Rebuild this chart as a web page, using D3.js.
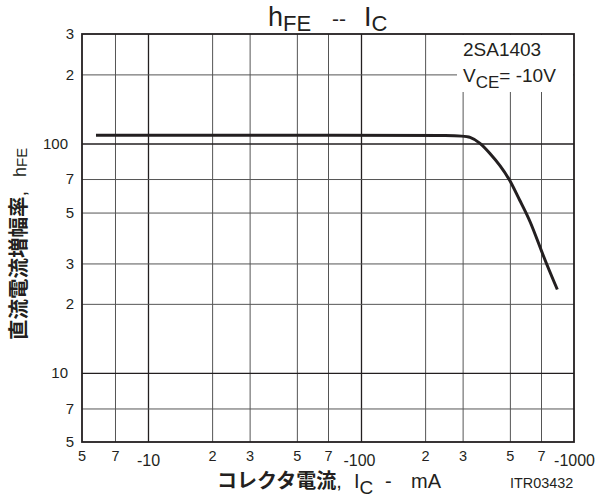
<!DOCTYPE html>
<html>
<head>
<meta charset="utf-8">
<script src="https://cdn.jsdelivr.net/npm/d3@7"></script>
<style>
body { margin: 0; background: #fff; }
text { font-family: "Liberation Sans", Arial, sans-serif; fill: #231f20; }
.jp { font-family: "Noto Sans CJK JP", sans-serif; font-weight: bold; }
</style>
</head>
<body>
<script>
//chart data
var xTicks = [5, 7, 10, 20, 30, 50, 70, 100, 200, 300, 500, 700, 1000];
var xTickLabels = ["5", "7", "-10", "2", "3", "5", "7", "-100", "2", "3", "5", "7", "-1000"];
var yTicks = [5, 7, 10, 20, 30, 50, 70, 100, 200, 300];
var yTickLabels = ["5", "7", "10", "2", "3", "5", "7", "100", "2", "3"];
var icValues = [5.7, 100, 292, 325, 362, 403, 449, 501, 554, 622, 718, 835];     //-mA
var hfeValues = [108.5, 108.5, 108.5, 107, 101, 90.6, 80.6, 69.3, 56.7, 46.4, 32.1, 23.1];

(function () {

var width = 599, height = 499;
var plotLeft = 82, plotRight = 574, plotTop = 34, plotBottom = 442;

var svg = d3.select("body").append("svg")
    .attr("width", width)
    .attr("height", height);

//log scales for both axes
var x = d3.scaleLog().domain([4.9, 1000]).range([plotLeft, plotRight]);
var y = d3.scaleLog().domain([5, 300]).range([plotBottom, plotTop]);

function isDecade(v) { return v === 10 || v === 100 || v === 1000; }

//vertical grid lines
svg.append("g")
    .attr("transform", "translate(0," + plotBottom + ")")
    .call(d3.axisBottom(x).tickValues(xTicks.slice(1, -1)).tickSize(-(plotBottom - plotTop)).tickFormat(""))
    .call(function(g) {
        g.select(".domain").remove();
        g.selectAll(".tick line")
            .attr("stroke", function(d) { return isDecade(d) ? "#231f20" : "#555"; })
            .attr("stroke-width", function(d) { return isDecade(d) ? 1.3 : 1; });
    });

//horizontal grid lines
svg.append("g")
    .attr("transform", "translate(" + plotLeft + ",0)")
    .call(d3.axisLeft(y).tickValues(yTicks.slice(1, -1)).tickSize(-(plotRight - plotLeft)).tickFormat(""))
    .call(function(g) {
        g.select(".domain").remove();
        g.selectAll(".tick line")
            .attr("stroke", function(d) { return isDecade(d) ? "#231f20" : "#555"; })
            .attr("stroke-width", function(d) { return isDecade(d) ? 1.3 : 1; });
    });

//white box behind the type/condition note
svg.append("rect")
    .attr("x", 457).attr("y", plotTop + 1)
    .attr("width", plotRight - 457 - 1).attr("height", 57)
    .attr("fill", "#fff");

//frame
svg.append("rect")
    .attr("x", plotLeft).attr("y", plotTop)
    .attr("width", plotRight - plotLeft).attr("height", plotBottom - plotTop)
    .attr("fill", "none")
    .attr("stroke", "#231f20")
    .attr("stroke-width", 1.8);

//x tick labels
svg.append("g")
    .attr("transform", "translate(0," + plotBottom + ")")
    .call(d3.axisBottom(x).tickValues(xTicks).tickSize(0)
        .tickFormat(function(d, i) { return xTickLabels[i]; }))
    .call(function(g) {
        g.select(".domain").remove();
        g.selectAll(".tick text")
            .attr("font-family", "Liberation Sans, Arial, sans-serif")
            .attr("fill", "#231f20")
            .attr("font-size", function(d) { return isDecade(d) ? 16 : 14.5; })
            .attr("y", function(d) { return isDecade(d) ? 13 : 9; })
            .attr("dx", function(d) { return d === 100 ? -2 : 0; });
        g.selectAll(".tick").filter(function(d) { return d === 5; })
            .attr("transform", "translate(" + plotLeft + ",0)");
    });

//y tick labels
svg.append("g")
    .attr("transform", "translate(" + plotLeft + ",0)")
    .call(d3.axisLeft(y).tickValues(yTicks).tickSize(0)
        .tickFormat(function(d, i) { return yTickLabels[i]; }))
    .call(function(g) {
        g.select(".domain").remove();
        g.selectAll(".tick text")
            .attr("font-size", 15)
            .attr("font-family", "Liberation Sans, Arial, sans-serif")
            .attr("fill", "#231f20")
            .attr("x", function(d) { return isDecade(d) ? -14 : -8; });
    });

//hFE curve
var line = d3.line()
    .x(function(d) { return x(d[0]); })
    .y(function(d) { return y(d[1]); })
    .curve(d3.curveBasis);

svg.append("path")
    .datum(d3.zip(icValues, hfeValues))
    .attr("d", line)
    .attr("fill", "none")
    .attr("stroke", "#231f20")
    .attr("stroke-width", 3);

//title
var title = svg.append("text")
    .attr("y", 26)
    .attr("font-size", 27);
title.append("tspan").attr("x", 268).text("h");
title.append("tspan").attr("font-size", 22).attr("dy", 5).text("FE");
title.append("tspan").attr("x", 332).attr("font-size", 21).attr("dy", -5).text("--");
title.append("tspan").attr("x", 364).text("I");
title.append("tspan").attr("font-size", 22).attr("dy", 5).text("C");

//device note
svg.append("text")
    .attr("x", 463).attr("y", 56)
    .attr("font-size", 19)
    .text("2SA1403");
var vce = svg.append("text")
    .attr("x", 463).attr("y", 82)
    .attr("font-size", 19);
vce.append("tspan").text("V");
vce.append("tspan").attr("dy", 6).attr("font-size", 17).text("CE");
vce.append("tspan").attr("dy", -6).text("= -10V");

//x axis title
var xt = svg.append("text")
    .attr("y", 488)
    .attr("font-size", 20);
xt.append("tspan").attr("x", 217).attr("class", "jp").text("コレクタ電流");
xt.append("tspan").text(",");
xt.append("tspan").attr("x", 354).text("I");
xt.append("tspan").attr("dy", 6).attr("font-size", 19).text("C");
xt.append("tspan").attr("x", 385).attr("dy", -6).text("-");
xt.append("tspan").attr("x", 411).text("mA");

svg.append("text")
    .attr("x", 510).attr("y", 488)
    .attr("font-size", 14.4)
    .text("ITR03432");

//y axis title
var yt = svg.append("text")
    .attr("transform", "translate(26,340) rotate(-90)")
    .attr("font-size", 20.5);
yt.append("tspan").attr("x", 0).attr("class", "jp").text("直流電流増幅率");
yt.append("tspan").text(",");
yt.append("tspan").attr("x", 163).attr("font-size", 18).text("h");
yt.append("tspan").attr("font-size", 15).attr("dy", 1).text("FE");

})();
</script>
</body>
</html>
